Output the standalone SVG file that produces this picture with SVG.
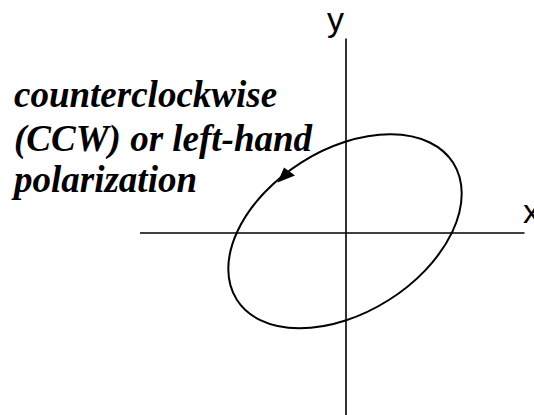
<svg xmlns="http://www.w3.org/2000/svg" width="534" height="415" viewBox="0 0 534 415">
<style>
.axis{stroke:#000;stroke-width:1.6;fill:none}
.ell{stroke:#000;stroke-width:2;fill:none}
</style>
<rect width="534" height="415" fill="#fff"/>
<g id="connectors">
<line id="x-axis" class="axis" x1="140" y1="233" x2="524.5" y2="233"/>
<line id="y-axis" class="axis" x1="346" y1="38.5" x2="346" y2="415"/>
</g>
<g id="ellipse">
<ellipse class="ell" cx="345" cy="231.3" rx="128" ry="81.5" transform="rotate(-32.2 345 231.3)"/>
<polygon points="277.5,182.5 284,167.5 295,175.5" fill="#000"/>
</g>
<g id="label-y"><text x="327" y="31" font-family="Liberation Sans, Arial, sans-serif" font-size="34" fill="#000">y</text></g>
<g id="label-x"><text x="523" y="223" font-family="Liberation Sans, Arial, sans-serif" font-size="34" fill="#000">x</text></g>
<g id="caption" font-family="Liberation Serif, Times New Roman, serif" font-size="37" font-weight="bold" font-style="italic" fill="#000">
<text x="14" y="107">counterclockwise</text>
<text x="14" y="151">(CCW) or left-hand</text>
<text x="14" y="192">polarization</text>
</g>
</svg>
